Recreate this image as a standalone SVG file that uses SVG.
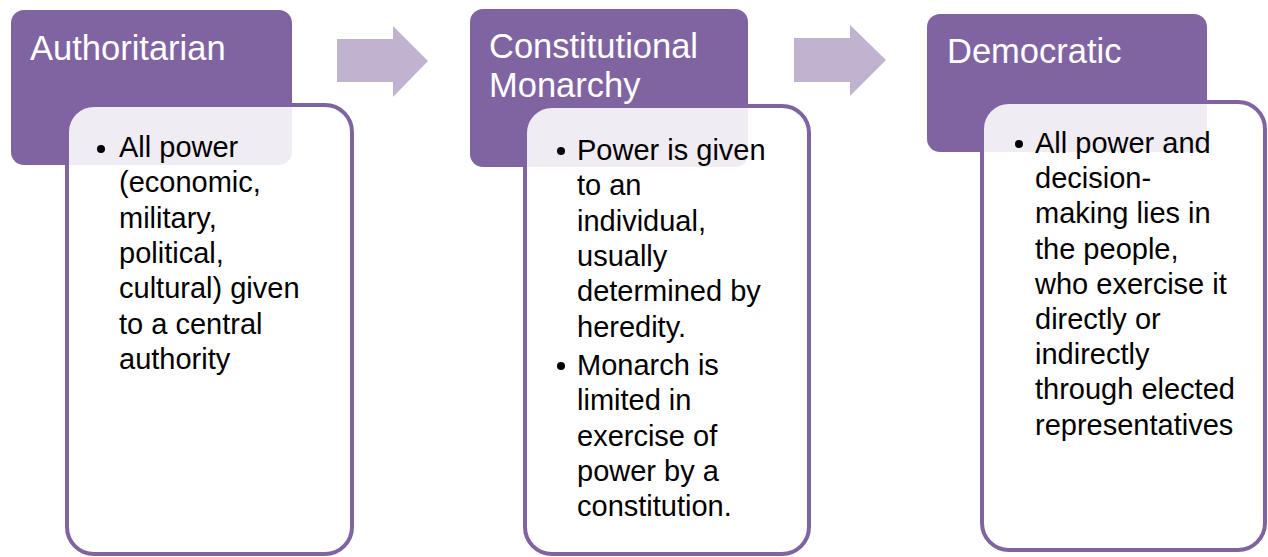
<svg xmlns="http://www.w3.org/2000/svg" width="1268" height="557" viewBox="0 0 1268 557">
<style>
.hdr{fill:#8064A2;}
.card{fill:#ffffff;fill-opacity:0.88;stroke:#8064A2;stroke-width:4;}
.arrow{fill:#BFB3D0;}
.ht{font-family:"Liberation Sans",Arial,sans-serif;font-size:34.5px;fill:#ffffff;}
.bt{font-family:"Liberation Sans",Arial,sans-serif;font-size:29px;fill:#000000;}
.dot{fill:#000000;}
</style>
<rect width="1268" height="557" fill="#ffffff"/>
<g id="connectors">
<polygon class="arrow" points="337,39 393,39 393,26 428,61 393,97 393,82 337,82"/>
<polygon class="arrow" points="794,38 850,38 850,25 886,60 850,96 850,82 794,82"/>
</g>
<g id="node-authoritarian">
<rect class="hdr" x="11" y="10" width="281" height="155" rx="13"/>
<text class="ht" x="30" y="60">Authoritarian</text>
<rect class="card" x="67" y="105" width="285" height="449" rx="27"/>
<circle class="dot" cx="101" cy="149" r="4"/>
<text class="bt">
<tspan x="119" y="157">All power</tspan>
<tspan x="119" y="192.3">(economic,</tspan>
<tspan x="119" y="227.6">military,</tspan>
<tspan x="119" y="262.9">political,</tspan>
<tspan x="119" y="298.2">cultural) given</tspan>
<tspan x="119" y="333.5">to a central</tspan>
<tspan x="119" y="368.8">authority</tspan>
</text>
</g>
<g id="node-constitutional-monarchy">
<rect class="hdr" x="470" y="9" width="278" height="158" rx="13"/>
<text class="ht"><tspan x="489" y="58">Constitutional</tspan><tspan x="489" y="97">Monarchy</tspan></text>
<rect class="card" x="525" y="106" width="284" height="448" rx="27"/>
<circle class="dot" cx="561" cy="151" r="4"/>
<circle class="dot" cx="561" cy="366" r="4"/>
<text class="bt">
<tspan x="577" y="160">Power is given</tspan>
<tspan x="577" y="195.3">to an</tspan>
<tspan x="577" y="230.6">individual,</tspan>
<tspan x="577" y="265.9">usually</tspan>
<tspan x="577" y="301.2">determined by</tspan>
<tspan x="577" y="336.5">heredity.</tspan>
<tspan x="577" y="375">Monarch is</tspan>
<tspan x="577" y="410.3">limited in</tspan>
<tspan x="577" y="445.6">exercise of</tspan>
<tspan x="577" y="480.9">power by a</tspan>
<tspan x="577" y="516.2">constitution.</tspan>
</text>
</g>
<g id="node-democratic">
<rect class="hdr" x="927" y="14" width="280" height="138" rx="13"/>
<text class="ht" x="947" y="63">Democratic</text>
<rect class="card" x="982" y="102" width="283" height="448" rx="27"/>
<circle class="dot" cx="1019" cy="144" r="4"/>
<text class="bt">
<tspan x="1035" y="153">All power and</tspan>
<tspan x="1035" y="188.2">decision-</tspan>
<tspan x="1035" y="223.4">making lies in</tspan>
<tspan x="1035" y="258.6">the people,</tspan>
<tspan x="1035" y="293.8">who exercise it</tspan>
<tspan x="1035" y="329">directly or</tspan>
<tspan x="1035" y="364.2">indirectly</tspan>
<tspan x="1035" y="399.4">through elected</tspan>
<tspan x="1035" y="434.6">representatives</tspan>
</text>
</g>
</svg>
